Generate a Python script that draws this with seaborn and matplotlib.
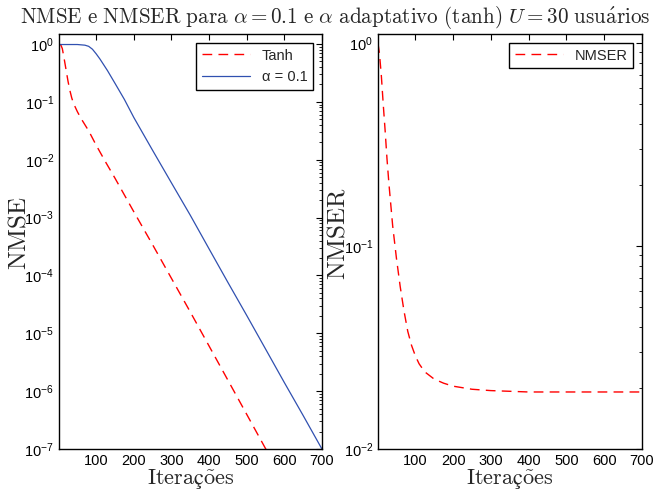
import math
import matplotlib
matplotlib.use('Agg')
import matplotlib.pyplot as plt
import matplotlib.ticker as mticker
import seaborn as sns

# NMSE curves (left panel)
iter_tanh = [5, 10, 15, 20, 25, 30, 35, 40, 50, 60, 80, 100, 125, 150,
             200, 250, 300, 350, 400, 450, 500, 550, 560]
nmse_tanh = [1.0, 0.832, 0.550, 0.355, 0.229, 0.158, 0.117, 0.0933, 0.0676,
             0.0513, 0.0316, 0.0178, 9.12e-3, 4.79e-3, 1.26e-3, 3.39e-4,
             8.91e-5, 2.34e-5, 6.03e-6, 1.55e-6, 3.98e-7, 1.02e-7, 7.8e-8]

iter_fixo = [1, 50, 70, 80, 90, 100, 110, 120, 130, 150, 175, 200, 250,
             300, 350, 400, 450, 500, 550, 600, 650, 700]
nmse_fixo = [0.98, 0.98, 0.955, 0.912, 0.813, 0.676, 0.550, 0.437, 0.347,
             0.209, 0.110, 0.0537, 0.0145, 3.98e-3, 1.10e-3, 2.88e-4,
             7.59e-5, 2.04e-5, 5.37e-6, 1.41e-6, 3.80e-7, 1.0e-7]

# NMSER (right panel)
iter_nmser = [1, 5, 10, 15, 20, 25, 30, 40, 50, 60, 70, 80, 90, 100, 110,
              125, 150, 175, 200, 250, 300, 400, 500, 600, 700]
nmser = [1.0, 0.891, 0.692, 0.501, 0.372, 0.269, 0.204, 0.126, 0.0871,
         0.0631, 0.0479, 0.0380, 0.0324, 0.0288, 0.0263, 0.0240, 0.0221,
         0.0211, 0.0204, 0.0197, 0.0194, 0.0191, 0.0191, 0.0191, 0.0191]

x_ticks = [100, 200, 300, 400, 500, 600, 700]

sns.set_style('white')
plt.rcParams['font.family'] = ['Liberation Sans', 'DejaVu Sans']
plt.rcParams['xtick.direction'] = 'in'
plt.rcParams['ytick.direction'] = 'in'

VERMELHO = '#ff0000'
AZUL = '#3050b0'
TRACO = (0, (7, 4.5))

fig = plt.figure(figsize=(6.55, 4.92), dpi=100)
ax1 = fig.add_axes([0.090, 0.0874, 0.4015, 0.8435])
ax2 = fig.add_axes([0.577, 0.0874, 0.403, 0.8435])

sns.lineplot(x=iter_tanh, y=nmse_tanh, ax=ax1, color=VERMELHO, linestyle=TRACO,
             linewidth=1.0, label='Tanh', estimator=None)
sns.lineplot(x=iter_fixo, y=nmse_fixo, ax=ax1, color=AZUL, linewidth=0.9,
             label='α = 0.1', estimator=None)
sns.lineplot(x=iter_nmser, y=nmser, ax=ax2, color=VERMELHO, linestyle=TRACO,
             linewidth=1.0, label='NMSER', estimator=None)

fmt = mticker.FuncFormatter(lambda v, p: r'$\mathregular{10^{%d}}$' % round(math.log10(v)))

for ax, ylim, nome in [(ax1, (1e-7, 1.49), 'NMSE'), (ax2, (1e-2, 1.11), 'NMSER')]:
    ax.set_yscale('log')
    ax.set_xlim(1, 700)
    ax.set_ylim(*ylim)
    ax.set_xticks(x_ticks)
    ax.yaxis.set_major_formatter(fmt)
    ax.yaxis.set_minor_formatter(mticker.NullFormatter())
    ax.tick_params(which='both', top=True, right=True, labelsize=10.5, colors='black')
    ax.tick_params(which='major', length=4, width=0.8)
    ax.tick_params(which='minor', length=2, width=0.6)
    for s in ax.spines.values():
        s.set_color('black')
        s.set_linewidth(1.0)
    ax.set_xlabel(r'$\mathrm{Iteraç\tilde{o}es}$', fontsize=16, math_fontfamily='cm')
    ax.set_ylabel(r'$\mathrm{%s}$' % nome, fontsize=18, math_fontfamily='cm')
    ax.xaxis.set_label_coords(0.5, -0.044)
    ax.yaxis.set_label_coords(-0.108, 0.52)
    leg = ax.legend(loc='upper right', fancybox=False, framealpha=1, edgecolor='black',
                    fontsize=10.5, handlelength=3.3, borderaxespad=0.6)
    leg.get_frame().set_linewidth(1.0)

titulo = (r'$\mathrm{NMSE\ e\ NMSER\ para\ }\alpha = 0.1\mathrm{\ e\ }\alpha'
          r'\mathrm{\ adaptativo\ (tanh)\ }U = 30\mathrm{\ usu\acute{a}rios}$')
fig.text(0.512, 0.965, titulo, ha='center', va='center', fontsize=15.2,
         math_fontfamily='cm')

fig.savefig('out.png', dpi=100)
